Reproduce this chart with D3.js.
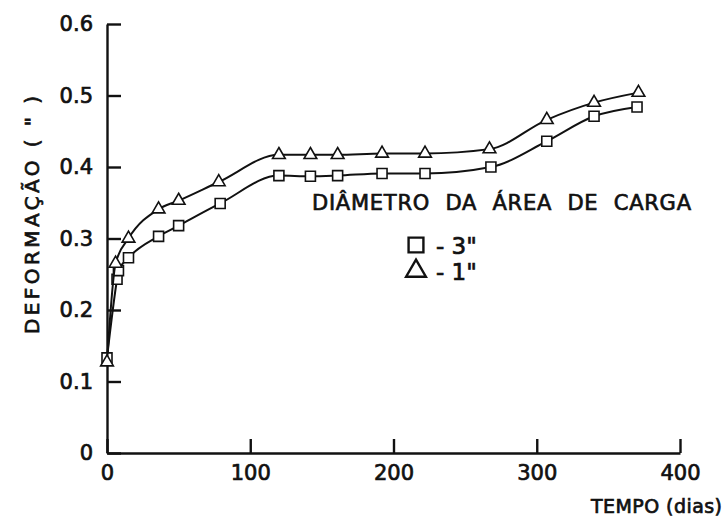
<!DOCTYPE html>
<html>
<head>
<meta charset="utf-8">
<script src="https://cdn.jsdelivr.net/npm/d3@7"></script>
<style>
    body { margin: 0; background: #fff; }
    text { font-family: "DejaVu Sans", "Liberation Sans", sans-serif; fill: #111; stroke: #111; stroke-width: 0.7px; }
    .axis path, .axis line { stroke: #111; stroke-width: 2.4; }
    .axis text { font-size: 21px; }
</style>
</head>
<body>
<div id="chart-container"></div>
<script>
// dias x deformacao
var days3 = [0, 7, 8, 15, 36, 50, 79, 120, 142, 161, 192, 222, 268, 307, 340, 370];
var def3  = [0.133, 0.243, 0.255, 0.273, 0.303, 0.318, 0.349, 0.388, 0.387, 0.388, 0.391, 0.391, 0.400, 0.436, 0.471, 0.484];

var days1 = [0, 6, 15, 36, 50, 78, 120, 142, 161, 192, 222, 267, 307, 340, 371];
var def1  = [0.127, 0.265, 0.300, 0.341, 0.353, 0.379, 0.417, 0.417, 0.417, 0.419, 0.419, 0.425, 0.466, 0.490, 0.504];

var xTicks = [0, 100, 200, 300, 400];
var yTicks = [0, 0.1, 0.2, 0.3, 0.4, 0.5, 0.6];

var legendTitle = "DIÂMETRO DA ÁREA DE CARGA";
var legendLabels = ["- 3\"", "- 1\""];

function drawChart() {
    const width = 727;
    const height = 521;

    const xScale = d3.scaleLinear().domain([0, 400]).range([107, 680]);
    const yScale = d3.scaleLinear().domain([0, 0.6]).range([453, 24]);

    var svg = d3.select("#chart-container")
        .append("svg")
        .attr("width", width)
        .attr("height", height);

    var xAxis = d3.axisBottom(xScale)
        .tickValues(xTicks)
        .tickSizeInner(-14)
        .tickSizeOuter(0)
        .tickPadding(12)
        .tickFormat(d3.format("d"));

    var yAxis = d3.axisLeft(yScale)
        .tickValues(yTicks)
        .tickSizeInner(-14)
        .tickSizeOuter(0)
        .tickPadding(14)
        .tickFormat((d) => d === 0 ? "0" : d3.format(".1f")(d));

    svg.append("g")
        .attr("class", "axis")
        .attr("transform", "translate(0," + yScale(0) + ")")
        .call(xAxis);

    svg.append("g")
        .attr("class", "axis")
        .attr("transform", "translate(" + xScale(0) + ",0)")
        .call(yAxis);

    svg.selectAll(".axis .domain").attr("stroke-width", 2.6);
    svg.selectAll(".axis text").attr("stroke-width", 0.7);

    // curvas
    var series = [
        { days: days3, vals: def3, shape: "square" },
        { days: days1, vals: def1, shape: "triangle" }
    ];

    var line = d3.line()
        .x((d) => xScale(d[0]))
        .y((d) => yScale(d[1]))
        .curve(d3.curveMonotoneX);

    series.forEach(function(s) {
        var pts = s.days.map((d, i) => [d, s.vals[i]]);

        svg.append("path")
            .datum(pts)
            .attr("d", line)
            .attr("fill", "none")
            .attr("stroke", "#111")
            .attr("stroke-width", 2);

        var sym = d3.symbol()
            .type(s.shape === "square" ? d3.symbolSquare : d3.symbolTriangle)
            .size(s.shape === "square" ? 100 : 70);

        svg.selectAll("path." + s.shape)
            .data(pts)
            .enter()
            .append("path")
            .attr("class", s.shape)
            .attr("d", sym)
            .attr("transform", (d) => "translate(" + xScale(d[0]) + "," + yScale(d[1]) + ")")
            .attr("fill", "#fff")
            .attr("stroke", "#111")
            .attr("stroke-width", 1.6);
    });

    // titulo eixo y
    svg.append("text")
        .attr("transform", "translate(39,215) rotate(-90)")
        .attr("text-anchor", "middle")
        .attr("textLength", 238)
        .attr("lengthAdjust", "spacing")
        .style("font-size", "20px")
        .text("DEFORMAÇÃO  ( \" )");

    // titulo eixo x
    svg.append("text")
        .attr("x", 591)
        .attr("y", 513)
        .attr("textLength", 131)
        .attr("lengthAdjust", "spacing")
        .style("font-size", "19px")
        .text("TEMPO (dias)");

    // legenda
    svg.append("text")
        .attr("x", 312)
        .attr("y", 210)
        .attr("textLength", 379)
        .attr("lengthAdjust", "spacing")
        .style("font-size", "21px")
        .style("word-spacing", "8px")
        .text(legendTitle);

    var legendShapes = [d3.symbolSquare, d3.symbolTriangle];
    var legendSizes = [220, 170];
    legendLabels.forEach(function(label, i) {
        var ly = 245 + i * 26;
        svg.append("path")
            .attr("d", d3.symbol().type(legendShapes[i]).size(legendSizes[i]))
            .attr("transform", "translate(416," + ly + ")")
            .attr("fill", "#fff")
            .attr("stroke", "#111")
            .attr("stroke-width", 2.4);
        svg.append("text")
            .attr("x", 436)
            .attr("y", ly + 9)
            .style("font-size", "23px")
            .text(label);
    });
}

drawChart();
</script>
</body>
</html>
